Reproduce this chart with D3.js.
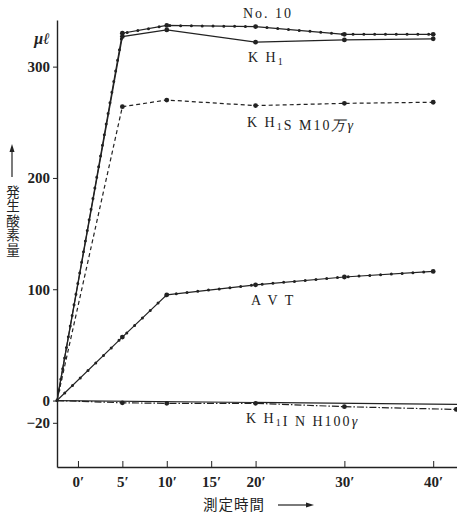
<!DOCTYPE html>
<html>
<head>
<meta charset="utf-8">
<script src="https://cdn.jsdelivr.net/npm/d3@7"></script>
<style>
  body { margin: 0; background: #fff; }
  svg { display: block; }
  .lbl { font-family: "Liberation Serif", "DejaVu Serif", serif; fill: #222; }
  .jp { font-family: "Noto Sans CJK JP", sans-serif; fill: #222; }
</style>
</head>
<body>
<script>
// data (time in minutes, oxygen in µl)
const startT = -2.36;           // curves start at the axis corner
const times = [startT, 5, 10, 20, 30, 40];
const no10 = [0, 330, 337, 336, 329, 329];
const kh1 = [0, 327, 333, 322, 324, 325];
const kh1sm = [0, 264, 270, 265, 267, 268];
const avt = [0, 57, 95, 104, 111, 116];
const inhTimes = [startT, 5, 10, 20, 30, 42.6];
const kh1inh = [0, -2, -2.5, -2.5, -5.5, -8];
const baseTimes = [startT, 42.7];
const baseVals = [0, -3.5];
const xTicks = [0, 5, 10, 15, 20, 30, 40];
const yTicks = [-20, 0, 100, 200, 300];

let width = 457, height = 523;
let svg = d3.select('body').append('svg').attr('width', width).attr('height', height);

let x = d3.scaleLinear().domain([startT, 42.68]).range([57, 457]);
let y = d3.scaleLinear().domain([-59.7, 341.9]).range([467, 20]);
let ink = '#222';

// axes
let yAxis = svg.append('g').attr('transform', 'translate(57,0)')
   .call(d3.axisLeft(y).tickValues(yTicks).tickSizeInner(4).tickSizeOuter(0).tickPadding(3)
      .tickFormat(d => d < 0 ? '\u2212' + (-d) : d));
let xAxis = svg.append('g').attr('transform', 'translate(0,467)')
   .call(d3.axisBottom(x).tickValues(xTicks).tickSizeInner(-6).tickSizeOuter(0).tickPadding(9)
      .tickFormat(d => d + '\u2032'));
[yAxis, xAxis].forEach(g => {
   g.select('.domain').attr('stroke', ink).attr('stroke-width', 1.4);
   g.selectAll('.tick line').attr('stroke', ink);
   g.selectAll('.tick text').attr('class', 'lbl').attr('font-size', 15).attr('font-weight', 'bold')
      .attr('fill', ink);
});

let line = d3.line().x(d => x(d[0])).y(d => y(d[1]));
let series = [
   { t: times, v: no10, dash: null, ticks: true },
   { t: times, v: kh1, dash: null, ticks: false },
   { t: times, v: kh1sm, dash: '4 3', ticks: false },
   { t: times, v: avt, dash: null, ticks: true },
   { t: inhTimes, v: kh1inh, dash: '7 2 1.5 2', ticks: false },
   { t: baseTimes, v: baseVals, dash: null, ticks: false, noDots: true }
];

series.forEach(s => {
   let pts = s.t.map((t, i) => [t, s.v[i]]);
   svg.append('path').attr('d', line(pts)).attr('fill', 'none')
      .attr('stroke', ink).attr('stroke-width', 1.2)
      .attr('stroke-dasharray', s.dash);
   if (s.ticks) {
      // small tick marks along the curve, as in the original plot
      svg.append('path').attr('d', line(pts)).attr('fill', 'none')
         .attr('stroke', ink).attr('stroke-width', 3)
         .attr('stroke-linecap', 'round')
         .attr('stroke-dasharray', '0 10.8');
   }
   if (!s.noDots) {
      svg.selectAll(null).data(pts.slice(1)).enter().append('circle')
         .attr('cx', d => x(d[0])).attr('cy', d => y(d[1])).attr('r', 2.4).attr('fill', ink);
   }
});

// curve labels
let addLabel = (px, py, parts) => {
   let t = svg.append('text').attr('class', 'lbl').attr('x', px).attr('y', py)
      .attr('font-size', 14).attr('letter-spacing', 2);
   parts.forEach(p => {
      if (p.sub) {
         t.append('tspan').attr('font-size', 10).attr('dy', 3).text(p.s);
         t.append('tspan').attr('dy', -3).text('');
      } else {
         t.append('tspan').attr('font-style', p.it ? 'italic' : null).text(p.s);
      }
   });
};
addLabel(243, 18, [{ s: 'No.  10' }]);
addLabel(248, 62, [{ s: 'K H' }, { s: '1', sub: true }]);
addLabel(247, 127, [{ s: 'K H' }, { s: '1', sub: true }, { s: 'S M10' }, { s: '万', it: true }, { s: 'γ', it: true }]);
addLabel(251, 305, [{ s: 'A V T' }]);
addLabel(246, 423, [{ s: 'K H' }, { s: '1', sub: true }, { s: 'I  N H100' }, { s: 'γ', it: true }]);

// unit
svg.append('text').attr('class', 'lbl').attr('x', 50).attr('y', 44).attr('text-anchor', 'end')
   .attr('font-size', 16).attr('font-style', 'italic').attr('font-weight', 'bold').text('μℓ');

// y title with arrow, written vertically
svg.append('text').attr('class', 'jp').attr('x', 13).attr('y', 185)
   .attr('writing-mode', 'vertical-rl').attr('font-size', 13.5).attr('letter-spacing', 1)
   .text('発生酸素量');
svg.append('line').attr('x1', 12).attr('x2', 12).attr('y1', 147).attr('y2', 177)
   .attr('stroke', ink).attr('stroke-width', 1.2);
svg.append('path').attr('d', 'M12,144 L9.5,152 L14.5,152 Z').attr('fill', ink);

// x title with arrow
svg.append('text').attr('class', 'jp').attr('x', 203).attr('y', 510)
   .attr('font-size', 14.5).attr('letter-spacing', 1).text('測定時間');
svg.append('line').attr('x1', 278).attr('x2', 308).attr('y1', 505).attr('y2', 505)
   .attr('stroke', ink).attr('stroke-width', 1.2);
svg.append('path').attr('d', 'M314,505 L306,502.5 L306,507.5 Z').attr('fill', ink);
</script>
</body>
</html>
